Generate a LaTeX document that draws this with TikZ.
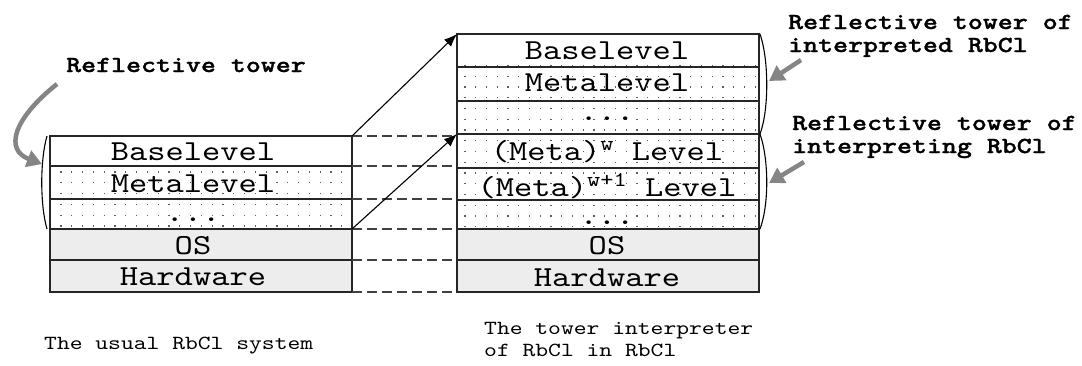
\documentclass[tikz,border=0pt]{standalone}
\usepackage{fontspec}
\newfontfamily\monoreg{lmmono10-regular}[Extension=.otf, FakeStretch=1.2]
\newfontfamily\monocap{lmmono10-regular}[Extension=.otf, FakeStretch=1.22]
\newfontfamily\monobold{lmmonolt10-bold}[Extension=.otf, FakeStretch=1.24, FakeBold=1.2]
\usetikzlibrary{arrows.meta}
\definecolor{rowgray}{HTML}{EDEDED}
\definecolor{dotc}{HTML}{5E5E5E}
\definecolor{arrgray}{HTML}{858585}
\tikzset{
  row/.style={draw=black!85, line width=1.2pt, minimum width=302pt, inner sep=0pt, outer sep=0pt},
  plain/.style={row, fill=white},
  shaded/.style={row, fill=rowgray},
  lvl/.style={anchor=base, inner sep=0pt, font=\monoreg\fontsize{29}{34}\selectfont},
  lbl/.style={anchor=base west, inner sep=0pt, font=\monobold\fontsize{23}{27}\selectfont},
  captxt/.style={anchor=base west, inner sep=0pt, font=\monocap\fontsize{20}{24}\selectfont},
  link/.style={draw=black!75, line width=1.1pt, dash pattern=on 10pt off 5pt},
  jump/.style={draw=black, line width=1.1pt, -{Latex[length=13pt,width=10pt]}},
  brace/.style={draw=black, line width=1.1pt},
  pointer/.style={draw=arrgray, line width=4.5pt, -{Triangle[length=15pt,width=17pt]}}
}
\newcommand{\sps}[1]{\raisebox{10pt}{\fontsize{21}{25}\selectfont #1}}
\begin{document}
\begin{tikzpicture}[x=1pt,y=-1pt]
\useasboundingbox (0,0) rectangle (1082,365);
% left tower rows
\node[plain, minimum height=30pt] (L1) at (201,151) {};
\node[plain, minimum height=33pt] (L2) at (201,182.5) {};
\node[plain, minimum height=30pt] (L3) at (201,214) {};
\node[shaded, minimum height=31pt] (L4) at (201,244.5) {};
\node[shaded, minimum height=32pt] (L5) at (201,276) {};
% right tower rows
\node[plain, minimum height=33pt] (R1) at (608,50.5) {};
\node[plain, minimum height=34pt] (R2) at (608,84) {};
\node[plain, minimum height=33pt] (R3) at (608,117.5) {};
\node[plain, minimum height=34pt] (R4) at (608,151) {};
\node[plain, minimum height=32pt] (R5) at (608,184) {};
\node[plain, minimum height=29pt] (R6) at (608,214.5) {};
\node[shaded, minimum height=31pt] (R7) at (608,244.5) {};
\node[shaded, minimum height=32pt] (R8) at (608,276) {};
% dotted fill
\foreach \i in {0,...,26} \foreach \j in {0,...,5}
  \fill[dotc] ({61+10.8*\i-0.65},{172+10.8*\j-0.65}) rectangle +(1.3,1.3);
\foreach \i in {0,...,27} \foreach \j in {0,...,15}
  \fill[dotc] ({465+10.75*\i-0.65},{65.5+10.75*\j-0.65}) rectangle +(1.3,1.3);
% redraw borders over dots
\foreach \n in {L1,L2,L3,L4,L5,R1,R2,R3,R4,R5,R6,R7,R8}
  \draw[draw=black!85, line width=1.2pt] (\n.north west) rectangle (\n.south east);
% texts left
\node[lvl] (tL1) at (193,160) {Baselevel};
\node[lvl] (tL2) at (193,192) {Metalevel};
\node[lvl] (tL3) at (193,221) {...};
\node[lvl] (tL4) at (193,254) {OS};
\node[lvl] (tL5) at (193,285) {Hardware};
% texts right
\node[lvl] (tR1) at (607,59) {Baselevel};
\node[lvl] (tR2) at (607,91) {Metalevel};
\node[lvl] (tR3) at (607,120) {...};
\node[lvl] (tR4) at (607,160) {(Meta)\sps{w} Level};
\node[lvl] (tR5) at (607,196) {(Meta)\sps{w+1} Level};
\node[lvl] (tR6) at (607,224) {...};
\node[lvl] (tR7) at (607,254) {OS};
\node[lvl] (tR8) at (607,286) {Hardware};
% dashed links
\foreach \n in {L1,L2,L3,L4,L5}
  \draw[link] (\n.north east) -- (\n.north east -| R1.west);
\draw[link] (L5.south east) -- (L5.south east -| R1.west);
% arrows
\draw[jump] (L1.north east) -- (R1.north west);
\draw[jump] (L3.south east) -- (R4.north west);
% braces
\draw[brace] ([xshift=-3pt]L1.north west) .. controls (40,160) and (40,205) .. ([xshift=-3pt]L3.south west);
\draw[brace] ([xshift=1pt]R1.north east) .. controls (769,60) and (769,110) .. ([xshift=1pt]R3.south east);
\draw[brace] ([xshift=1pt]R4.north east) .. controls (769,160) and (769,205) .. ([xshift=1pt]R6.south east);
% labels
\node[lbl] (lab1) at (66,72) {Reflective tower};
\node[lbl] (lab2) at (788,29) {Reflective tower of};
\node[lbl] (lab2b) at (788,52) {interpreted RbCl};
\node[lbl] (lab3) at (792,130) {Reflective tower of};
\node[lbl] (lab3b) at (792,153) {interpreting RbCl};
\coordinate (p1) at (57,84);
\coordinate (p1t) at (42,164);
\draw[pointer] (p1) .. controls (12,120) and (5,150) .. (p1t);
\coordinate (p2) at (801,60);
\coordinate (p2t) at (769,81);
\draw[pointer] (p2) -- (p2t);
\coordinate (p3) at (804,162);
\coordinate (p3t) at (769,183);
\draw[pointer] (p3) -- (p3t);
% captions
\node[captxt] (c1) at (44,349) {The usual RbCl system};
\node[captxt] (c2) at (484,334) {The tower interpreter};
\node[captxt] (c3) at (484,356) {of RbCl in RbCl};
\end{tikzpicture}
\end{document}
